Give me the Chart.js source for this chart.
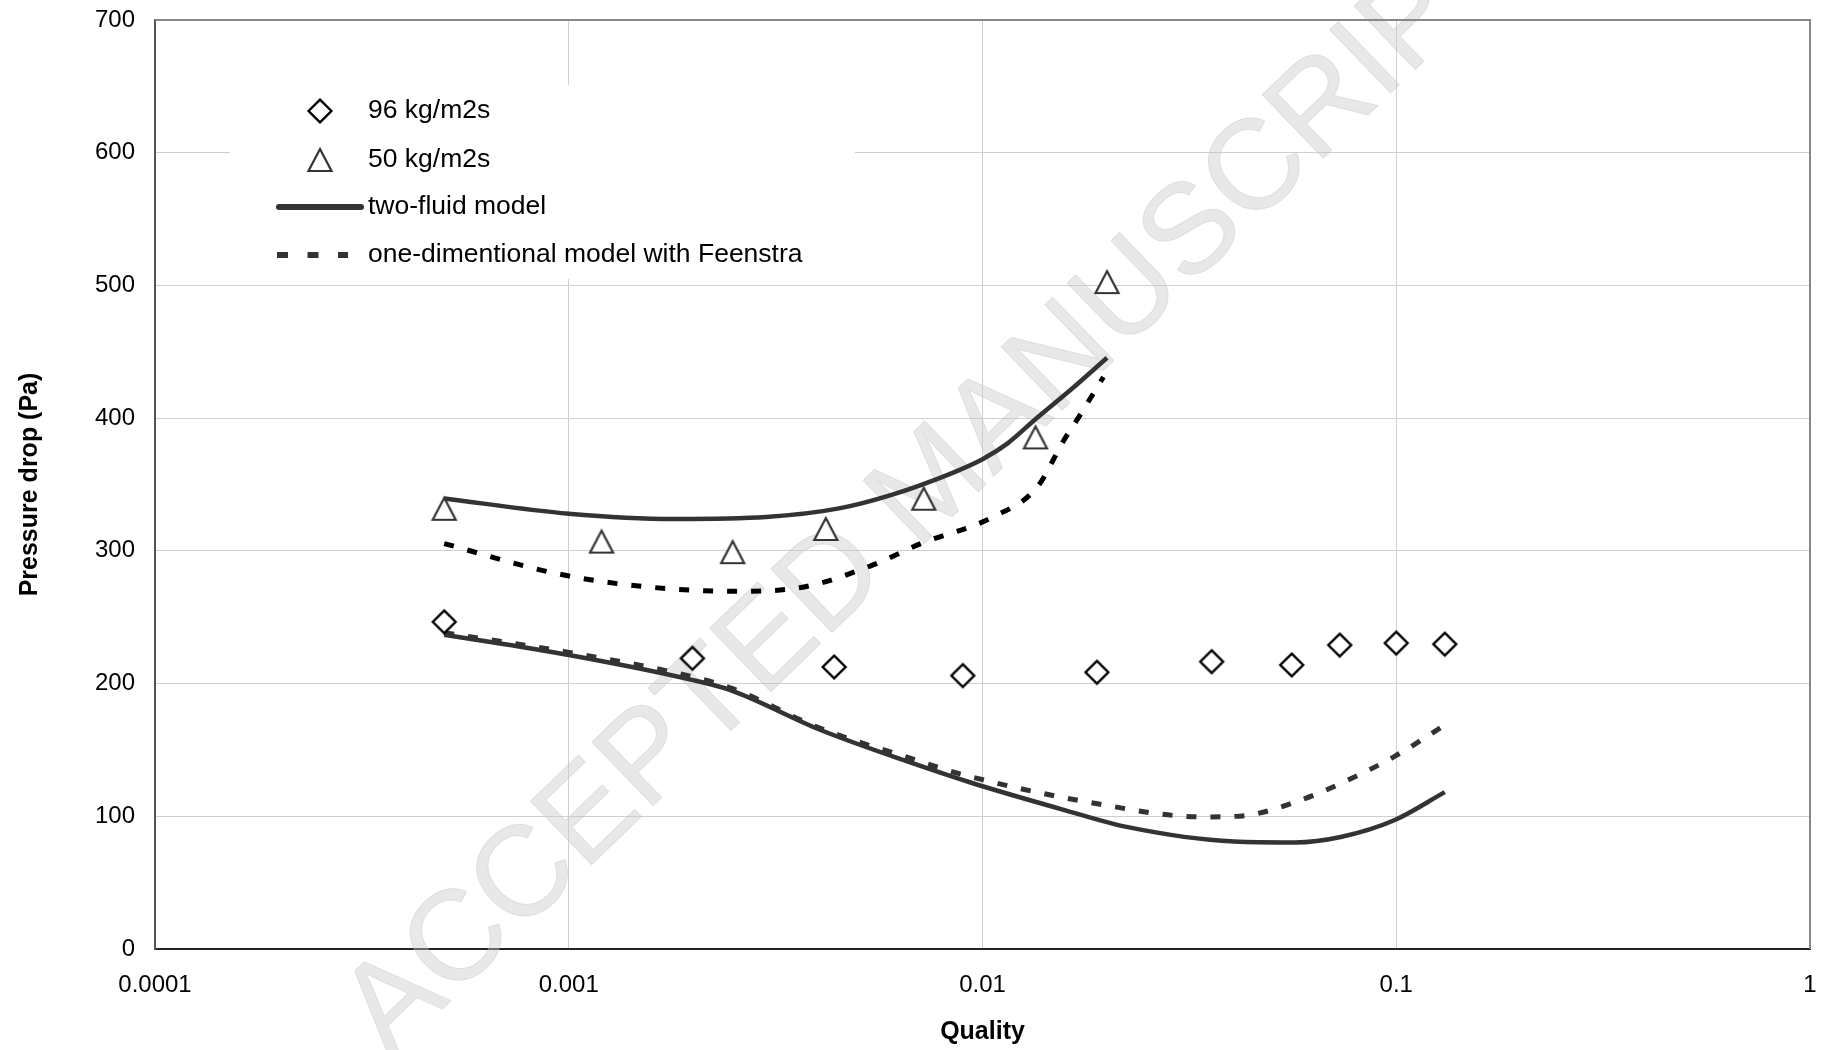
<!DOCTYPE html>
<html>
<head>
<meta charset="utf-8">
<title>Pressure drop vs quality</title>
<script src="https://cdn.jsdelivr.net/npm/chart.js"></script>
<style>
  html, body { margin: 0; padding: 0; background: #fff; }
  canvas { display: block; }
</style>
</head>
<body>
<canvas id="grafico" width="1823" height="1050"></canvas>
<script>
// axis ticks
const xTicks = [0.0001, 0.001, 0.01, 0.1, 1];
const xTickLabels = ['0.0001', '0.001', '0.01', '0.1', '1'];
const yTicks = [0, 100, 200, 300, 400, 500, 600, 700];

// measurements, 96 kg/m2s (diamonds)
const quality96 = [0.0005, 0.00199, 0.00438, 0.00896, 0.0189, 0.0358, 0.0559, 0.0730, 0.100, 0.131];
const dp96 = [246.5, 219, 212.5, 206, 208.5, 216.5, 214, 229, 230.5, 229.7];

// measurements, 50 kg/m2s (triangles)
const quality50 = [0.0005, 0.00120, 0.00249, 0.00418, 0.00721, 0.01343, 0.0200];
const dp50 = [331.7, 307, 299, 316.5, 339.3, 385.5, 502.5];

// two-fluid model, 50 kg/m2s
const qTwoFluid50 = [0.0005, 0.001, 0.0018, 0.003, 0.0045, 0.006, 0.0085, 0.01, 0.0115, 0.0134, 0.0165, 0.0200];
const dpTwoFluid50 = [339.5, 328, 324, 325.5, 332, 342, 359, 369, 381, 399, 422.5, 445.5];

// one-dimensional model, 50 kg/m2s
const qOneDim50 = [0.0005, 0.0009, 0.00137, 0.0025, 0.0037, 0.0054, 0.0071, 0.0106, 0.0136, 0.0157, 0.0171, 0.0196];
const dpOneDim50 = [305.5, 284, 274.6, 269.5, 272.8, 289, 305.5, 325.5, 348.5, 383, 401, 431];

// two-fluid model, 96 kg/m2s
const qTwoFluid96 = [0.0005, 0.001, 0.00197, 0.00244, 0.00406, 0.00677, 0.00952, 0.01586, 0.0223, 0.0405, 0.0569, 0.0734, 0.0989, 0.131];
const dpTwoFluid96 = [236.8, 221.5, 203, 195.4, 165, 140, 124.7, 104.5, 92, 81, 80.3, 84.4, 97, 118.2];

// one-dimensional model, 96 kg/m2s
const qOneDim96 = [0.0005, 0.001, 0.002, 0.0025, 0.004, 0.0068, 0.00874, 0.0188, 0.0341, 0.043, 0.0569, 0.0734, 0.0989, 0.131];
const dpOneDim96 = [238.3, 223.5, 205, 196, 167, 143, 132.3, 109.6, 99.5, 100.5, 110.6, 124.7, 145, 168.7];

const legendLabels = ['96 kg/m2s', '50 kg/m2s', 'two-fluid model', 'one-dimentional model with Feenstra'];
const watermarkText = 'ACCEPTED MANUSCRIPT';

const FONT = "'Liberation Sans', Arial, sans-serif";

function toPoints(xs, ys) {
    return xs.map((x, i) => ({ x: x, y: ys[i] }));
}

// marker images
function makeDiamond() {
    const c = document.createElement('canvas');
    c.width = 28; c.height = 28;
    const g = c.getContext('2d');
    g.beginPath();
    g.moveTo(14, 2.6);
    g.lineTo(25.4, 14);
    g.lineTo(14, 25.4);
    g.lineTo(2.6, 14);
    g.closePath();
    g.fillStyle = '#fff';
    g.fill();
    g.lineWidth = 2.4;
    g.strokeStyle = '#000';
    g.lineJoin = 'miter';
    g.stroke();
    return c;
}

function makeTriangle() {
    const c = document.createElement('canvas');
    c.width = 28; c.height = 28;
    const g = c.getContext('2d');
    g.beginPath();
    g.moveTo(14, 3);
    g.lineTo(25.5, 25);
    g.lineTo(2.5, 25);
    g.closePath();
    g.fillStyle = '#fff';
    g.fill();
    g.lineWidth = 2.2;
    g.strokeStyle = '#333';
    g.stroke();
    return c;
}

const diamondImg = makeDiamond();
const triangleImg = makeTriangle();

const extrasPlugin = {
    id: 'extras',
    beforeDatasetsDraw(chart) {
        const ctx = chart.ctx;

        // watermark
        ctx.save();
        ctx.translate(933, 486);
        ctx.rotate(-44 * Math.PI / 180);
        ctx.font = '128px ' + FONT;
        ctx.textAlign = 'center';
        ctx.textBaseline = 'middle';
        ctx.fillStyle = 'rgba(200,200,200,0.42)';
        ctx.fillText(watermarkText, 0, 0);
        ctx.lineWidth = 1;
        ctx.strokeStyle = 'rgba(190,190,190,0.35)';
        ctx.strokeText(watermarkText, 0, 0);
        ctx.restore();

        // legend box
        ctx.save();
        ctx.fillStyle = '#fff';
        ctx.fillRect(230, 85, 625, 194);

        const rows = [111, 160, 207, 255];
        ctx.drawImage(diamondImg, 320 - 14, rows[0] - 14);
        ctx.drawImage(triangleImg, 320 - 14, rows[1] - 14);

        ctx.strokeStyle = '#333';
        ctx.lineWidth = 6;
        ctx.lineCap = 'round';
        ctx.beginPath();
        ctx.moveTo(279, rows[2]);
        ctx.lineTo(361, rows[2]);
        ctx.stroke();

        ctx.lineCap = 'butt';
        ctx.setLineDash([11, 19.5]);
        ctx.beginPath();
        ctx.moveTo(277, rows[3]);
        ctx.lineTo(348, rows[3]);
        ctx.stroke();
        ctx.setLineDash([]);

        ctx.fillStyle = '#000';
        ctx.font = '26.5px ' + FONT;
        ctx.textAlign = 'left';
        ctx.textBaseline = 'middle';
        legendLabels.forEach((t, i) => ctx.fillText(t, 368, rows[i]));
        ctx.restore();
    },
    afterDraw(chart) {
        // top and right frame of the plot area
        const a = chart.chartArea;
        const ctx = chart.ctx;
        ctx.save();
        ctx.strokeStyle = '#888';
        ctx.lineWidth = 2;
        ctx.beginPath();
        ctx.moveTo(a.left, a.top);
        ctx.lineTo(a.right, a.top);
        ctx.lineTo(a.right, a.bottom);
        ctx.stroke();
        ctx.restore();
    }
};

const ctx = document.getElementById('grafico');

new Chart(ctx, {
    type: 'scatter',
    data: {
        datasets: [
            {
                label: legendLabels[0],
                data: toPoints(quality96, dp96),
                pointStyle: diamondImg,
                pointRadius: 12,
                showLine: false
            },
            {
                label: legendLabels[1],
                data: toPoints(quality50, dp50),
                pointStyle: triangleImg,
                pointRadius: 12,
                showLine: false
            },
            {
                label: legendLabels[2],
                data: toPoints(qTwoFluid50, dpTwoFluid50),
                showLine: true,
                pointRadius: 0,
                borderColor: '#333',
                borderWidth: 4.5,
                cubicInterpolationMode: 'monotone'
            },
            {
                label: legendLabels[3],
                data: toPoints(qOneDim50, dpOneDim50),
                showLine: true,
                pointRadius: 0,
                borderColor: '#000',
                borderWidth: 5,
                borderDash: [10, 14],
                cubicInterpolationMode: 'monotone'
            },
            {
                label: legendLabels[2] + ' (96)',
                data: toPoints(qTwoFluid96, dpTwoFluid96),
                showLine: true,
                pointRadius: 0,
                borderColor: '#333',
                borderWidth: 4.5,
                cubicInterpolationMode: 'monotone'
            },
            {
                label: legendLabels[3] + ' (96)',
                data: toPoints(qOneDim96, dpOneDim96),
                showLine: true,
                pointRadius: 0,
                borderColor: '#333',
                borderWidth: 5,
                borderDash: [10, 14],
                cubicInterpolationMode: 'monotone'
            }
        ]
    },
    options: {
        responsive: false,
        animation: false,
        devicePixelRatio: 1,
        layout: { padding: { left: 0, right: 13, top: 20, bottom: 0 } },
        plugins: {
            legend: { display: false },
            tooltip: { enabled: false }
        },
        scales: {
            x: {
                type: 'logarithmic',
                min: xTicks[0],
                max: xTicks[xTicks.length - 1],
                afterBuildTicks: s => { s.ticks = xTicks.map(v => ({ value: v })); },
                afterFit: s => {
                    s.height = 101;
                    s.paddingLeft = 0;
                    s.paddingRight = 0;
                },
                ticks: {
                    callback: (v) => xTickLabels[xTicks.indexOf(v)],
                    color: '#000',
                    font: { family: FONT, size: 24 },
                    padding: 22,
                    maxRotation: 0,
                    autoSkip: false
                },
                grid: { color: '#cfcfcf', lineWidth: 1, drawTicks: false },
                border: { color: '#222', width: 2 },
                title: {
                    display: true,
                    text: 'Quality',
                    color: '#000',
                    font: { family: FONT, size: 25, weight: 'bold' },
                    padding: { top: 0, bottom: 3 }
                }
            },
            y: {
                min: yTicks[0],
                max: yTicks[yTicks.length - 1],
                afterBuildTicks: s => { s.ticks = yTicks.map(v => ({ value: v })); },
                afterFit: s => {
                    s.width = 155;
                    s.paddingTop = 0;
                    s.paddingBottom = 0;
                },
                ticks: {
                    color: '#000',
                    font: { family: FONT, size: 24 },
                    padding: 20
                },
                grid: { color: '#cfcfcf', lineWidth: 1, drawTicks: false },
                border: { color: '#555', width: 2 },
                title: {
                    display: true,
                    text: 'Pressure drop (Pa)',
                    color: '#000',
                    font: { family: FONT, size: 25, weight: 'bold' },
                    padding: { top: 15, bottom: 0 }
                }
            }
        }
    },
    plugins: [extrasPlugin]
});
</script>
</body>
</html>
